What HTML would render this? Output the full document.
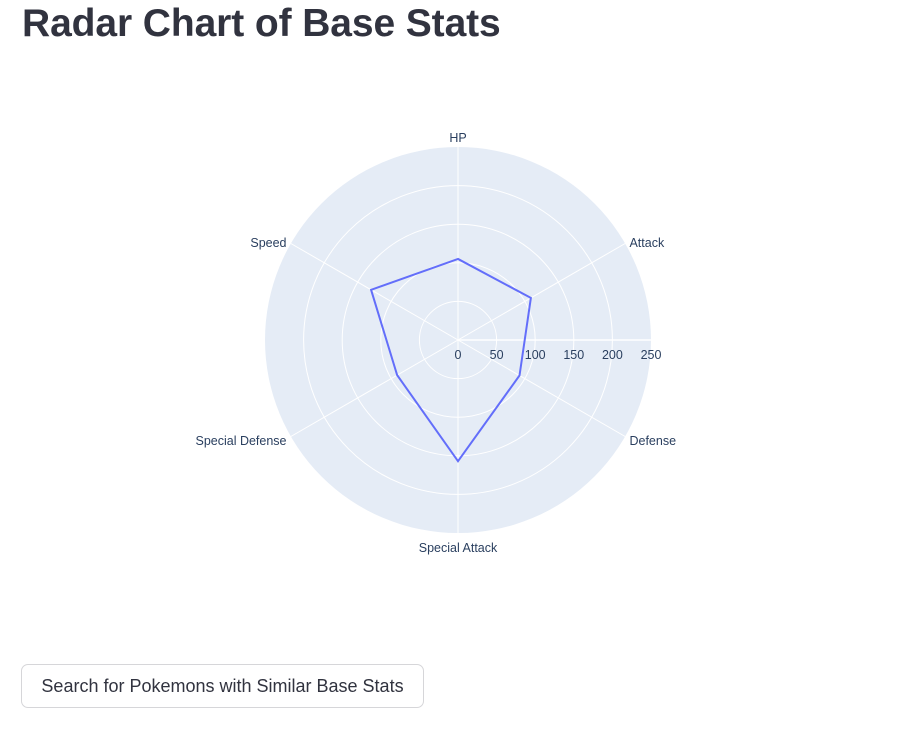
<!DOCTYPE html>
<html><head><meta charset="utf-8"><style>
body{margin:0;background:#fff;width:911px;height:729px;overflow:hidden;font-family:"Liberation Sans",sans-serif;}
h1{position:absolute;left:22px;top:2px;margin:0;font-size:39px;font-weight:bold;color:#31333F;letter-spacing:-0.1px;}
button{position:absolute;left:21px;top:664px;width:403px;height:44px;background:#fff;border:1px solid #d6d6d9;border-radius:7px;font-family:"Liberation Sans",sans-serif;font-size:18px;color:#31333F;padding:0;}
svg{position:absolute;left:0;top:0;}
</style></head><body>
<h1>Radar Chart of Base Stats</h1>
<svg id="chart" width="911" height="660"></svg>
<button>Search for Pokemons with Similar Base Stats</button>
<script>
const categories=["HP","Attack","Defense","Special Attack","Special Defense","Speed"];
const values=[105,109,92,157,91,130];
const radialTicks=[0,50,100,150,200,250];
const rMax=250;
const cx=458,cy=340,R=193;
const svg=document.getElementById('chart');
const NS='http://www.w3.org/2000/svg';
function rs(v){return v/rMax*R;}
function ang(i){return -Math.PI/2+i*2*Math.PI/categories.length;}
function pt(i,v){const a=ang(i);return [cx+rs(v)*Math.cos(a),cy+rs(v)*Math.sin(a)];}
function mk(t,a){const e=document.createElementNS(NS,t);for(const k in a)e.setAttribute(k,a[k]);svg.appendChild(e);return e;}
let bg=mk('circle',{cx:cx,cy:cy,r:R,fill:'#e5ecf6'});


radialTicks.forEach(t=>{if(t>0&&t<rMax){const c=mk('circle',{cx:cx,cy:cy,r:rs(t),fill:'none',stroke:'#fff','stroke-width':1});

}});
categories.forEach((c,i)=>{const p=pt(i,rMax);const l=mk('line',{x1:cx,y1:cy,x2:p[0],y2:p[1],stroke:'#fff','stroke-width':1});


const a=ang(i);const lx=cx+(R+5)*Math.cos(a),ly=cy+(R+5)*Math.sin(a);
const ca=Math.cos(a);let anchor=Math.abs(ca)<0.1?'middle':(ca>0?'start':'end');
let dy=Math.sin(a)< -0.9?0:(Math.sin(a)>0.9?14:6);
const tx=mk('text',{x:lx,y:ly+dy,'text-anchor':anchor,'font-size':12.5,fill:'#2a3f5f'});tx.textContent=c;

});
const ax=mk('line',{x1:cx,y1:cy,x2:cx+R,y2:cy,stroke:'#fff','stroke-width':1.5});


radialTicks.forEach(t=>{const tx=mk('text',{x:cx+rs(t),y:cy+19,'text-anchor':'middle','font-size':12.5,fill:'#2a3f5f'});tx.textContent=t;

});
const pts=values.map((v,i)=>pt(i,v).join(',')).join(' ');
const poly=mk('polygon',{points:pts,fill:'none',stroke:'#636efa','stroke-width':2});


</script>
</body></html>
